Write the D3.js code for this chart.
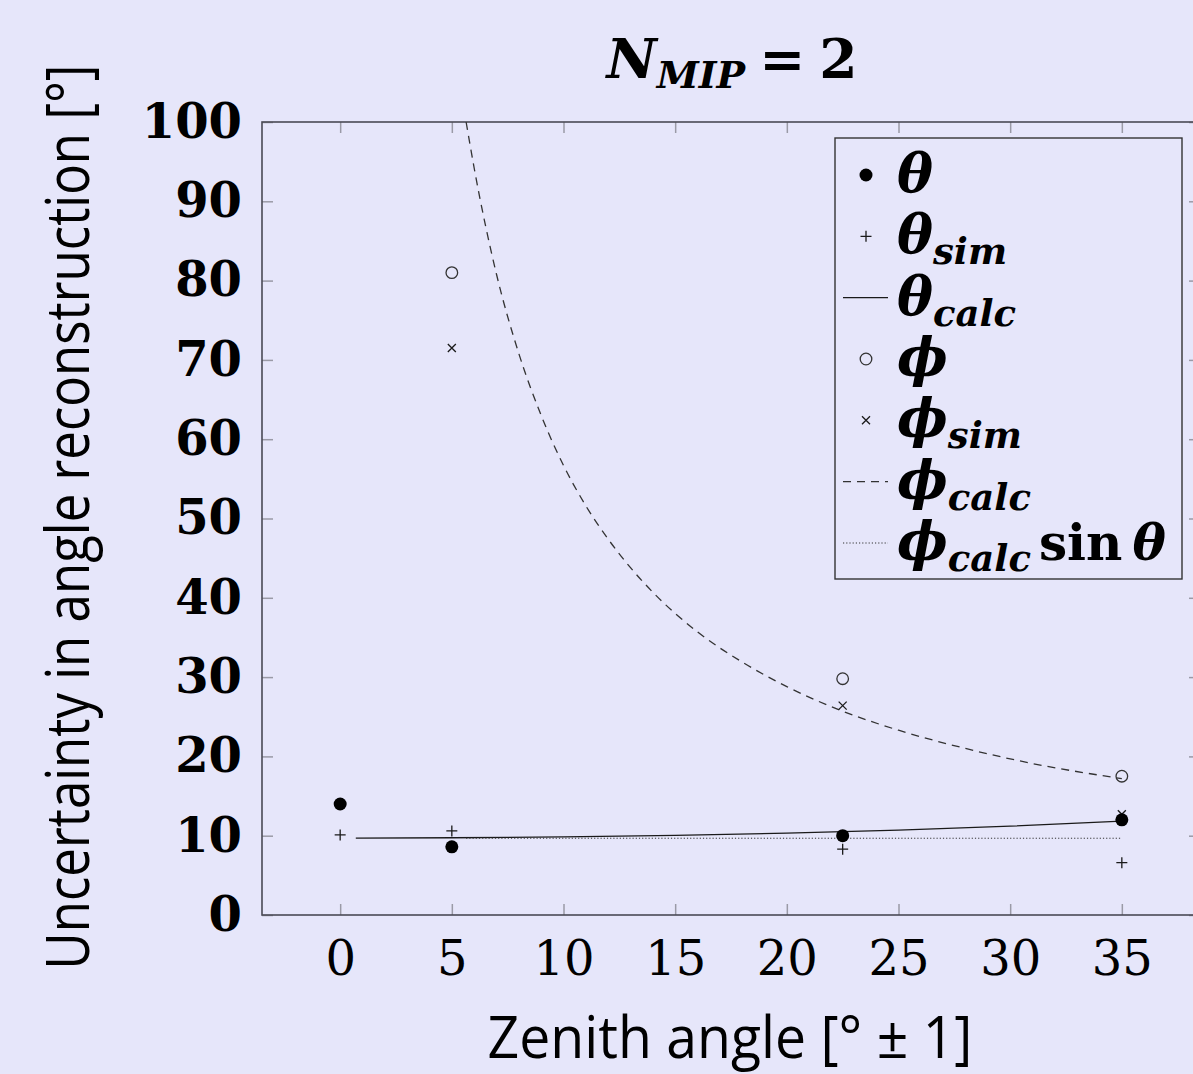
<!DOCTYPE html>
<html lang="en">
<head>
<meta charset="UTF-8">
<title>N_MIP = 2</title>
<script src="https://d3js.org/d3.v7.min.js"></script>
<style>
    body { margin: 0; background: #e6e6fa; }
    svg { display: block; }
    .axis path { display: none; }
    .axis line { stroke: #9a9aa6; stroke-width: 1.5; }
</style>
</head>
<body>
<div id="chart"></div>
<script>
    // zenith angles of the measured points
    const angles = [0, 5, 22.5, 35];
    // measured / simulated uncertainties
    const thetaMeas = [14.0, 8.6, 10.0, 12.0];
    const thetaSim = [10.1, 10.6, 8.3, 6.6];
    const phiMeas = [null, 81.0, 29.8, 17.5];
    const phiSim = [null, 71.5, 26.4, 12.7];

    // calculated curves
    const thetaCalcX = [0.7, 5, 10, 15, 20, 25, 30, 35];
    const thetaCalcY = [9.70, 9.74, 9.85, 10.04, 10.32, 10.70, 11.20, 11.84];
    const phiCalcX = [5.64, 6, 7, 8, 9, 10, 11, 12, 13, 14, 16, 18, 20, 22.5, 25, 28, 31, 35];
    const phiCalcY = [100, 94.2, 80.8, 70.8, 63.0, 56.7, 51.6, 47.4, 43.8, 40.7, 35.7, 31.9, 28.8, 25.7, 23.3, 21.0, 19.1, 17.2];
    const phiSinX = [5.64, 35];
    const phiSinY = [9.68, 9.68];

    const xTicks = [0, 5, 10, 15, 20, 25, 30, 35];
    const yTicks = [0, 10, 20, 30, 40, 50, 60, 70, 80, 90, 100];

    const width = 1193, height = 1074;
    const plotL = 262, plotR = 1200, plotT = 122, plotB = 915;
    const ink = "#1a1a1a";

    const svg = d3.select("#chart").append("svg")
        .attr("width", width)
        .attr("height", height);

    svg.append("rect").attr("width", width).attr("height", height).attr("fill", "#e6e6fa");

    const x = d3.scaleLinear().domain([-3.5, 38.5]).range([plotL, plotR]);
    const y = d3.scaleLinear().domain([0, 100]).range([plotB, plotT]);

    // axes: ticks point inwards on all four sides
    const gx = svg.append("g").attr("class", "axis")
        .attr("transform", `translate(0,${plotB})`)
        .call(d3.axisBottom(x).tickValues(xTicks).tickSize(-11).tickPadding(26));
    gx.selectAll("text")
        .attr("fill", "#000")
        .style("font-family", "'DejaVu Serif', serif")
        .style("font-size", "48px");

    const gy = svg.append("g").attr("class", "axis")
        .attr("transform", `translate(${plotL},0)`)
        .call(d3.axisLeft(y).tickValues(yTicks).tickSize(-11).tickPadding(20));
    gy.selectAll("text")
        .attr("fill", "#000")
        .style("font-family", "'DejaVu Serif', serif")
        .style("font-weight", "bold")
        .style("font-size", "48px");

    svg.append("g").attr("class", "axis")
        .attr("transform", `translate(0,${plotT})`)
        .call(d3.axisTop(x).tickValues(xTicks).tickSize(-11).tickFormat(""));
    svg.append("g").attr("class", "axis")
        .attr("transform", `translate(${plotR},0)`)
        .call(d3.axisRight(y).tickValues(yTicks).tickSize(-11).tickFormat(""));

    svg.append("rect")
        .attr("x", plotL).attr("y", plotT)
        .attr("width", plotR - plotL).attr("height", plotB - plotT)
        .attr("fill", "none").attr("stroke", "#4a4a55").attr("stroke-width", 1.6);

    // curves
    const line = d3.line().x(d => x(d[0])).y(d => y(d[1]));
    const plot = svg.append("g");

    plot.append("path")
        .attr("d", line(d3.zip(thetaCalcX, thetaCalcY)))
        .attr("fill", "none").attr("stroke", ink).attr("stroke-width", 1.3);
    plot.append("path")
        .attr("d", d3.line().curve(d3.curveMonotoneX).x(d => x(d[0])).y(d => y(d[1]))(d3.zip(phiCalcX, phiCalcY)))
        .attr("fill", "none").attr("stroke", "#333").attr("stroke-width", 1.3)
        .attr("stroke-dasharray", "8,6");
    plot.append("path")
        .attr("d", line(d3.zip(phiSinX, phiSinY)))
        .attr("fill", "none").attr("stroke", "#333").attr("stroke-width", 1)
        .attr("stroke-dasharray", "1.2,2");

    // marker helpers
    function mark(g, type, cx, cy) {
        if (type === "dot") {
            g.append("circle").attr("cx", cx).attr("cy", cy).attr("r", 6.5).attr("fill", "#000");
        } else if (type === "circle") {
            g.append("circle").attr("cx", cx).attr("cy", cy).attr("r", 5.8)
                .attr("fill", "none").attr("stroke", "#333").attr("stroke-width", 1.3);
        } else if (type === "plus") {
            g.append("path").attr("d", `M${cx - 5.5},${cy}H${cx + 5.5}M${cx},${cy - 5.5}V${cy + 5.5}`)
                .attr("stroke", ink).attr("stroke-width", 1.3);
        } else if (type === "cross") {
            g.append("path").attr("d", `M${cx - 4},${cy - 4}L${cx + 4},${cy + 4}M${cx - 4},${cy + 4}L${cx + 4},${cy - 4}`)
                .attr("stroke", ink).attr("stroke-width", 1.3);
        }
    }

    const series = [
        { vals: phiMeas, type: "circle" },
        { vals: phiSim, type: "cross" },
        { vals: thetaSim, type: "plus" },
        { vals: thetaMeas, type: "dot" }
    ];
    series.forEach(s => {
        s.vals.forEach((v, i) => {
            if (v !== null) mark(plot, s.type, x(angles[i]), y(v));
        });
    });

    // title
    const title = svg.append("text")
        .attr("x", 732).attr("y", 78)
        .attr("text-anchor", "middle")
        .style("font-family", "'DejaVu Serif', serif")
        .style("font-weight", "bold")
        .style("font-size", "55px");
    title.append("tspan").style("font-style", "italic").text("N");
    title.append("tspan").style("font-style", "italic").style("font-size", "38px").attr("dy", 10).text("MIP");
    title.append("tspan").attr("dy", -10).attr("dx", 14).text("=");
    title.append("tspan").attr("dx", 14).text("2");

    // axis titles
    svg.append("text")
        .attr("x", 730).attr("y", 1058)
        .attr("text-anchor", "middle")
        .attr("textLength", 485).attr("lengthAdjust", "spacingAndGlyphs")
        .style("font-family", "'Open Sans', sans-serif")
        .style("font-size", "58px")
        .text("Zenith angle [° ± 1]");

    svg.append("text")
        .attr("transform", "translate(89,517) rotate(-90)")
        .attr("text-anchor", "middle")
        .attr("textLength", 905).attr("lengthAdjust", "spacingAndGlyphs")
        .style("font-family", "'Open Sans', sans-serif")
        .style("font-size", "60px")
        .text("Uncertainty in angle reconstruction [°]");

    // legend
    const legend = svg.append("g");
    legend.append("rect")
        .attr("x", 835).attr("y", 138).attr("width", 347).attr("height", 441)
        .attr("fill", "#e6e6fa").attr("stroke", "#333").attr("stroke-width", 1.4);

    const legendItems = [
        { type: "dot", sym: "θ", sub: "" },
        { type: "plus", sym: "θ", sub: "sim" },
        { type: "solid", sym: "θ", sub: "calc" },
        { type: "circle", sym: "ϕ", sub: "" },
        { type: "cross", sym: "ϕ", sub: "sim" },
        { type: "dashed", sym: "ϕ", sub: "calc" },
        { type: "dotted", sym: "ϕ", sub: "calc", extra: true }
    ];
    const rowY = d3.scalePoint().domain(d3.range(legendItems.length)).range([175, 543]);

    legendItems.forEach((d, i) => {
        const cy = rowY(i);
        if (d.type === "solid" || d.type === "dashed" || d.type === "dotted") {
            legend.append("line")
                .attr("x1", 843).attr("x2", 888).attr("y1", cy).attr("y2", cy)
                .attr("stroke", d.type === "solid" ? ink : "#333")
                .attr("stroke-width", d.type === "dotted" ? 1 : 1.3)
                .attr("stroke-dasharray", d.type === "dashed" ? "8,6" : d.type === "dotted" ? "1.2,2" : null);
        } else {
            mark(legend, d.type, 866, cy);
        }
        const t = legend.append("text")
            .attr("x", 897).attr("y", cy + 17)
            .style("font-family", "'DejaVu Serif', serif")
            .style("font-weight", "bold")
            .style("font-size", "54px");
        t.append("tspan").style("font-style", "italic").text(d.sym);
        if (d.sub) {
            t.append("tspan").style("font-style", "italic").style("font-size", "37px")
                .attr("dy", 11).text(d.sub);
        }
        if (d.extra) {
            t.append("tspan").attr("dy", -11).attr("dx", 8).style("font-size", "50px").text("sin");
            t.append("tspan").attr("dx", 10).style("font-style", "italic").style("font-size", "50px").text("θ");
        }
    });
</script>
</body>
</html>
